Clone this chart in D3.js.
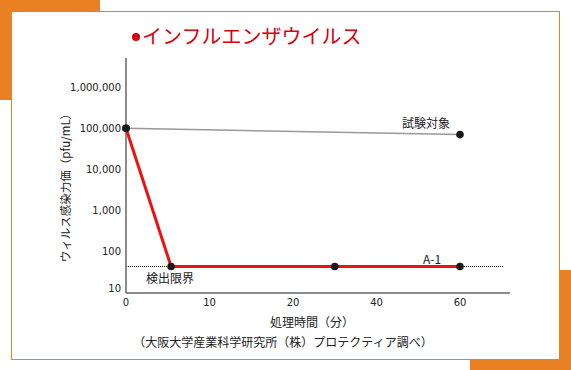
<!DOCTYPE html>
<html>
<head>
<meta charset="utf-8">
<script src="https://cdn.jsdelivr.net/npm/d3@7"></script>
<style>
  body { margin: 0; background: #fff; }
  svg text { font-family: "Noto Sans CJK JP", "DejaVu Sans", sans-serif; }
</style>
</head>
<body>
<div id="chart"></div>
<script>
const xTicks = [0, 10, 20, 40, 60];
const yTicks = [10, 100, 1000, 10000, 100000, 1000000];
const a1Times = [0, 5.4, 30, 60];
const a1Values = [100000, 44, 44, 44];
const controlTimes = [0, 60];
const controlValues = [100000, 70000];
const detectionLimit = 44;

const w = 571;
const h = 370;
const orange = "#e98024";

const svg = d3.select("#chart")
  .append("svg")
  .attr("width", w)
  .attr("height", h);

// decorative frame
svg.append("rect").attr("x", 0).attr("y", 0).attr("width", 100).attr("height", 100).attr("fill", orange);
svg.append("rect").attr("x", 470).attr("y", 270).attr("width", 101).attr("height", 100).attr("fill", orange);
svg.append("rect")
  .attr("x", 11.5).attr("y", 11.5)
  .attr("width", 548).attr("height", 348)
  .attr("fill", "#fff")
  .attr("stroke", orange)
  .attr("stroke-width", 1);

// title
svg.append("circle").attr("cx", 136).attr("cy", 37).attr("r", 4).attr("fill", "#d6000f");
svg.append("text")
  .attr("x", 142)
  .attr("y", 44)
  .attr("fill", "#d6000f")
  .style("font-size", "20px")
  .text("インフルエンザウイルス");

const left = 126;
const step = 83.5;
const x = d3.scaleLinear()
  .domain(xTicks)
  .range(xTicks.map((d, i) => left + i * step));

const y = d3.scaleLog()
  .domain([10, 1000000])
  .range([293, 87]);

const axisColor = "#666";

// axis lines
svg.append("line")
  .attr("x1", left).attr("x2", left)
  .attr("y1", 58).attr("y2", y(10))
  .attr("stroke", axisColor).attr("stroke-width", 1.5);
svg.append("line")
  .attr("x1", left).attr("x2", 510)
  .attr("y1", y(10)).attr("y2", y(10))
  .attr("stroke", axisColor).attr("stroke-width", 1.5);

// tick labels
svg.append("g")
  .selectAll("text")
  .data(yTicks)
  .join("text")
  .attr("x", 121)
  .attr("y", d => y(d) + (d === 10 ? -5 : 0))
  .attr("dy", "0.35em")
  .attr("text-anchor", "end")
  .attr("fill", "#222")
  .style("font-size", "10px")
  .style("font-family", "'DejaVu Sans', sans-serif")
  .text(d => d3.format(",")(d));

svg.append("g")
  .selectAll("text")
  .data(xTicks)
  .join("text")
  .attr("x", d => x(d))
  .attr("y", 302)
  .attr("dy", "0.35em")
  .attr("text-anchor", "middle")
  .attr("fill", "#222")
  .style("font-size", "10px")
  .style("font-family", "'DejaVu Sans', sans-serif")
  .text(d => d);

// detection limit
svg.append("line")
  .attr("x1", left).attr("x2", 503)
  .attr("y1", y(detectionLimit)).attr("y2", y(detectionLimit))
  .attr("stroke", "#111")
  .attr("stroke-width", 1)
  .attr("stroke-dasharray", "1,1");

const line = d3.line()
  .x(d => x(d[0]))
  .y(d => y(d[1]));

const control = controlTimes.map((t, i) => [t, controlValues[i]]);
const a1 = a1Times.map((t, i) => [t, a1Values[i]]);

svg.append("path")
  .datum(control)
  .attr("d", line)
  .attr("fill", "none")
  .attr("stroke", "#999")
  .attr("stroke-width", 1.5);

svg.append("path")
  .datum(a1)
  .attr("d", line)
  .attr("fill", "none")
  .attr("stroke", "#ee1111")
  .attr("stroke-width", 3);

svg.append("g")
  .selectAll("circle")
  .data(control.concat(a1))
  .join("circle")
  .attr("cx", d => x(d[0]))
  .attr("cy", d => y(d[1]))
  .attr("r", 3.8)
  .attr("fill", "#1a1a1a");

// annotations
const note = (tx, ty, txt, anchor) => svg.append("text")
  .attr("x", tx).attr("y", ty)
  .attr("dy", "0.35em")
  .attr("text-anchor", anchor || "middle")
  .attr("fill", "#222")
  .style("font-size", "12px")
  .text(txt);

note(426, 124, "試験対象");
note(432, 260, "A-1");
note(170, 279, "検出限界");
note(312, 323, "処理時間（分）");
note(283, 343, "（大阪大学産業科学研究所（株）プロテクティア調べ）");

svg.append("text")
  .attr("transform", "translate(66,185) rotate(-90)")
  .attr("text-anchor", "middle")
  .attr("dy", "0.35em")
  .attr("fill", "#222")
  .style("font-size", "11.5px")
  .text("ウィルス感染力価（pfu/mL）");
</script>
</body>
</html>
